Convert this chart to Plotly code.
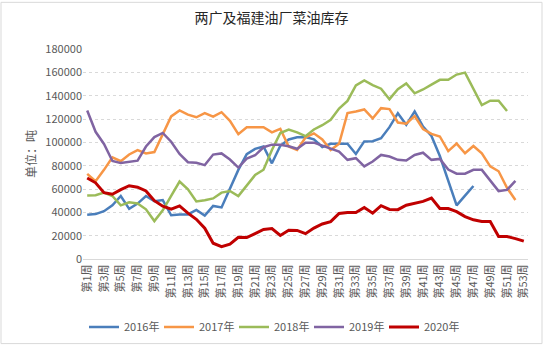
import plotly.graph_objects as go

weeks = [f"第{i}周" for i in range(1, 54)]
tick_labels = weeks[::2]

y2016 = [38000, 38500, 41000, 46000, 54000, 43000, 47500, 54000, 49500, 50500,
         37500, 38200, 38200, 42000, 37200, 45500, 44200, 61000, 76400, 89800,
         94400, 96400, 82000, 97000, 102500, 104300, 104500, 102500, 96000, 98800,
         98800, 98800, 90000, 100800, 101000, 103500, 113000, 125000, 115000, 126500,
         113500, 105500, 88300, 67500, 46000, 54300, 62600]
y2017 = [73000, 66700, 76400, 87200, 83800, 89600, 93300, 90500, 91700, 107500,
         122200, 127300, 123800, 121500, 125000, 122000, 125800, 118500, 107000, 113000,
         113000, 113000, 108500, 111500, 96500, 93500, 104200, 107700, 102500, 93500,
         98800, 125100, 126500, 128200, 120500, 129300, 128500, 117000, 116000, 122500,
         111400, 107200, 105000, 92500, 98900, 90600, 96900, 90600, 79400, 75200,
         61000, 50500]
y2018 = [54500, 54700, 56900, 54000, 46000, 48600, 47600, 42600, 32500, 41700,
         54200, 66400, 59700, 49300, 50300, 51900, 56900, 58300, 54000, 63500,
         72000, 76500, 93500, 108000, 111000, 108500, 105300, 111000, 114700, 119300,
         128900, 135500, 148700, 153000, 149000, 146000, 137000, 145500, 150400, 142000,
         145300, 149400, 153600, 153600, 158100, 159800, 146000, 132000, 135700, 135700,
         126800]
y2019 = [127300, 109000, 98600, 84000, 82200, 83300, 84300, 96400, 104500, 108000,
         100500, 90000, 83000, 82500, 80500, 89500, 90500, 85300, 78400, 86100,
         88900, 95800, 98000, 98000, 96700, 94500, 99700, 99700, 97000, 94200,
         92000, 85000, 86400, 79400, 83600, 89200, 87800, 85000, 84400, 89200,
         91100, 85000, 85800, 76700, 73100, 73100, 76400, 76400, 67500, 58200,
         59200, 67000]
y2020 = [69400, 65300, 56900, 55500, 59500, 62800, 61500, 58300, 50000, 45300,
         42800, 45500, 39300, 34000, 26400, 13500, 10500, 12800, 18600, 18400,
         21800, 25300, 26100, 20200, 24600, 24500, 21700, 26500, 30000, 32000,
         39000, 39800, 39800, 44200, 39300, 45700, 42500, 42300, 46100, 47500,
         49400, 52200, 43300, 43300, 40600, 36400, 33600, 32200, 32200, 19300,
         19300, 17500, 15300]

series = [
    ("2016年", y2016, "#4A7EBB", 2.5),
    ("2017年", y2017, "#F79646", 2.5),
    ("2018年", y2018, "#9BBB59", 2.5),
    ("2019年", y2019, "#8064A2", 2.5),
    ("2020年", y2020, "#C00000", 3),
]

fig = go.Figure()
for name, vals, color, w in series:
    fig.add_trace(go.Scatter(x=weeks[:len(vals)], y=vals, mode="lines", name=name,
                             line=dict(color=color, width=w)))

W, H = 543, 353
ml, mr, mt, mb = 83, 15, 49, 88
pw, ph = W - ml - mr, H - mt - mb

fig.update_layout(
    width=W, height=H,
    margin=dict(l=ml, r=mr, t=mt, b=mb),
    paper_bgcolor="white", plot_bgcolor="white",
    font=dict(family="Noto Sans CJK SC", size=11, color="#595959"),
    title=dict(text="两广及福建油厂菜油库存", x=0.5, xanchor="center",
               y=1 - 18 / H, yanchor="middle", yref="container",
               font=dict(size=14, color="#262626")),
    xaxis=dict(type="category", categoryorder="array", categoryarray=weeks,
               range=[-0.5, 52.5], tickmode="array", tickvals=tick_labels,
               ticktext=tick_labels, tickangle=-90, showgrid=False,
               showline=True, linecolor="#D9D9D9", linewidth=1, ticks="",
               tickfont=dict(size=11, color="#595959")),
    yaxis=dict(range=[0, 180000], dtick=20000, tickformat="d", showgrid=True,
               gridcolor="#D9D9D9", griddash="dot", zeroline=False, showline=False,
               ticks="", tickfont=dict(size=11, color="#595959"),
               title=dict(text="单位：吨", standoff=6, font=dict(size=12, color="#595959"))),
    legend=dict(orientation="h", x=(W / 2 - ml) / pw, xanchor="center",
                y=-(335 - 265) / ph, yanchor="middle",
                font=dict(size=11, color="#595959"),
                itemwidth=30, entrywidth=30, bgcolor="rgba(0,0,0,0)"),
    shapes=[dict(type="rect", xref="paper", yref="paper",
                 x0=(-ml + 1) / pw, x1=1 + (mr - 1) / pw,
                 y0=(-mb + 1) / ph, y1=1 + (mt - 1) / ph,
                 line=dict(color="#D9D9D9", width=1), layer="below")],
)

fig.write_html("out.html")
